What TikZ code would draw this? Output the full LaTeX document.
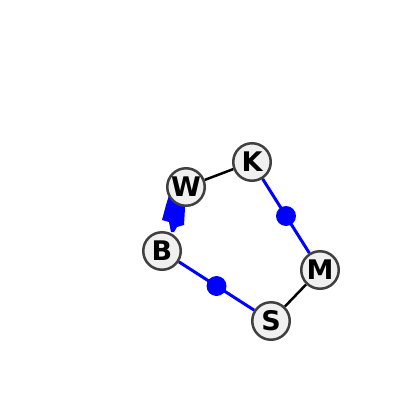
\documentclass[tikz,border=0pt]{standalone}
\usepackage{fontspec}
\setmainfont{DejaVu Sans}
\usetikzlibrary{positioning, backgrounds}

\begin{document}
\begin{tikzpicture}[
            x=1pt, y=-1pt,
            atom/.style={
                circle, draw=black!75, fill=black!6, line width=2.5pt,
                minimum size=37.5pt, inner sep=0pt,
                font=\bfseries\fontsize{27}{27}\selectfont
            },
            plain bond/.style={draw=black, line width=2.5pt},
            blue bond/.style={draw=blue, line width=3pt},
            bond dot/.style={circle, fill=blue, minimum size=20pt, inner sep=0pt}
        ]
        \useasboundingbox (0, 0) rectangle (400, 400);

        \node[atom] (K) at (252, 162) {K};
        \node[atom] (W) at (186, 187) {W};
        \node[atom] (B) at (162, 251) {B};
        \node[atom] (S) at (271, 321) {S};
        \node[atom] (M) at (320, 270) {M};

        \begin{scope}[on background layer]
            \draw[plain bond] (W) -- (K);
            \draw[plain bond] (M) -- (S);
            \draw[blue bond] (K) -- (M) node[midway, bond dot] (KM) {};
            \draw[blue bond] (S) -- (B) node[midway, bond dot] (SB) {};
            % wedge between W and B
            \fill[blue] (170, 192) -- (166, 205) -- (162, 220) -- (169, 222)
                -- (171, 232) -- (174, 232) -- (177, 227) -- (184, 225)
                -- (185, 208) -- (184, 192) -- cycle;
        \end{scope}
    \end{tikzpicture}
\end{document}
